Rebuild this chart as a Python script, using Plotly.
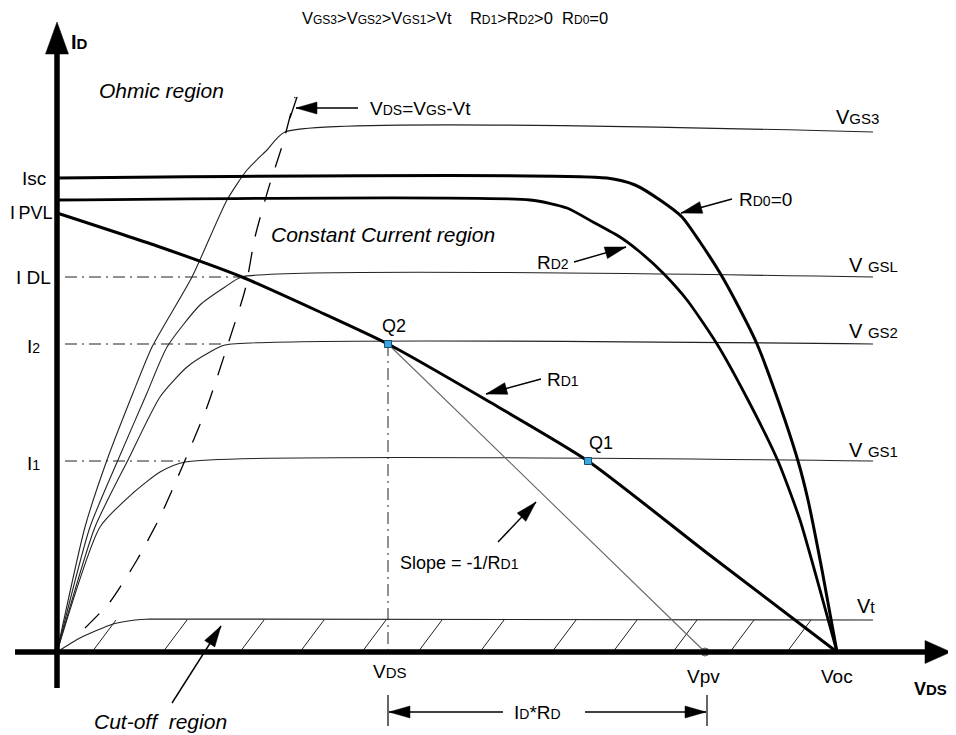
import plotly.graph_objects as go

# ---------------- data (V_DS, I_D in diagram units) ----------------
V_OC = 78.0
V_END = 81.6
I_SC = 47.4
I_PVL = 43.9
I_DL = 37.5
I_2 = 30.8
I_1 = 19.1
I_T = 3.2
I_GS3 = 52.0
V_Q2 = 33.1
V_Q1 = 53.1
V_PV = 64.8

rd0_v = [0, 55.0, 57.8, 60.3, 62.5, 64.3, 66.3, 67.8, 70.0, 72.1, 74.1, 75.1, 76.5, 78.0]
rd0_i = [47.4, 47.4, 46.7, 45.2, 43.5, 41.0, 37.9, 35.2, 30.8, 25.2, 19.1, 15.2, 8.2, 0]

rd2_v = [0, 47.3, 51.0, 53.6, 56.3, 58.3, 60.6, 63.0, 66.0, 69.1, 72.1, 74.3, 76.3, 78.0]
rd2_i = [45.2, 45.2, 44.4, 43.0, 41.5, 40.0, 37.9, 35.2, 30.8, 25.2, 19.1, 13.2, 6.2, 0]

rd1_v = [0, 10.0, 18.5, 26.3, 33.1, 43.1, 53.1, 65.0, 78.0]
rd1_i = [43.9, 40.6, 37.5, 34.0, 30.8, 25.1, 19.1, 9.9, 0]

vgs3_v = [0, 2.8, 5.0, 7.6, 9.5, 13.5, 17.0, 19.0, 21.0, 22.8, 81.6]
vgs3_i = [0, 12.5, 19.2, 25.9, 30.5, 37.5, 45.2, 48.2, 50.2, 52.0, 52.0]
vgsl_v = [0, 3.3, 6.1, 9.0, 11.0, 14.3, 16.8, 18.5, 81.6]
vgsl_i = [0, 12.5, 19.2, 25.9, 30.5, 34.7, 36.5, 37.5, 37.5]
vgs2_v = [0, 3.8, 7.1, 10.3, 13.0, 15.3, 16.8, 81.6]
vgs2_i = [0, 12.5, 19.2, 25.5, 28.5, 30.0, 30.7, 30.8]
vgs1_v = [0, 4.3, 7.6, 10.3, 12.8, 81.6]
vgs1_i = [0, 12.5, 15.9, 18.0, 19.0, 19.1]
vt_v = [0, 2.3, 5.6, 7.8, 9.3, 81.6]
vt_i = [0, 1.4, 2.8, 3.2, 3.3, 3.2]

locus_v = [2.8, 5.3, 8.0, 10.3, 12.3, 15.0, 17.1, 18.8, 19.8, 21.1, 22.6, 23.8]
locus_i = [2.4, 5.0, 9.2, 13.5, 18.0, 24.5, 30.8, 36.2, 41.5, 46.2, 50.9, 55.5]

knee_i = [I_DL, I_2, I_1]
knee_v = [18.5, 16.5, 12.8]

hatch_v = [3.5, 10.6, 18.3, 24.3, 30.5, 36.1, 42.3, 49.5, 55.6, 61.6, 67.3, 73.0]

# ---------------- figure ----------------
PAGE_W, PAGE_H = 956, 735
BODY = 8                  # default page margin of the html body
W, H = PAGE_W - BODY, PAGE_H - BODY
OX, OY = 57, 652          # page pixel position of the origin
S = 10.0                  # pixels per diagram unit


def P(px, py):
    return ((px - OX) / S, (OY - py) / S)


FONT = "Liberation Sans, Arial, Helvetica, sans-serif"
fig = go.Figure()


def line(x, y, w=1.0, color="black", dash=None, shape="linear"):
    fig.add_trace(go.Scatter(x=x, y=y, mode="lines", hoverinfo="skip",
                             line=dict(color=color, width=w, dash=dash, shape=shape, smoothing=0.6)))


# ohmic / saturation curves
line(vgs3_v, vgs3_i, 1.1, "#222", shape="spline")
line(vgsl_v, vgsl_i, 1.1, "#222", shape="spline")
line(vgs2_v, vgs2_i, 1.1, "#222", shape="spline")
line(vgs1_v, vgs1_i, 1.1, "#222", shape="spline")
line(vt_v, vt_i, 1.1, "#222", shape="spline")

# VDS = VGS - Vt locus
line(locus_v, locus_i, 1.3, "black", dash="20px,16px", shape="spline")

# dash-dot guides
for iv, kv in zip(knee_i, knee_v):
    line([0.8, kv], [iv, iv], 1.0, "#222", dash="12px,5px,2px,5px")
line([V_Q2, V_Q2], [I_2, 0], 1.0, "#222", dash="12px,5px,2px,5px")

# hatch of cut-off region
for hv in hatch_v:
    line([hv, hv + 2.4], [0, I_T], 1.0, "#222")

# slope line Q2 -> Vpv
line([V_Q2, V_PV], [I_2, 0], 1.1, "#666")

# PV curves
line(rd0_v, rd0_i, 3.0, "black", shape="spline")
line(rd2_v, rd2_i, 2.8, "black", shape="spline")
line(rd1_v, rd1_i, 3.0, "black", shape="spline")

# operating points
fig.add_trace(go.Scatter(x=[V_Q2, V_Q1], y=[I_2, I_1], mode="markers", hoverinfo="skip",
                         marker=dict(symbol="square", size=7, color="#3aa8dc",
                                     line=dict(color="#1b4d74", width=1))))
fig.add_trace(go.Scatter(x=[V_PV], y=[0], mode="markers", hoverinfo="skip",
                         marker=dict(symbol="circle", size=8, color="#8a8a8a",
                                     line=dict(color="#666", width=1))))

shapes = []


def seg(p1, p2, w=1.3, color="black"):
    (x1, y1), (x2, y2) = P(*p1), P(*p2)
    shapes.append(dict(type="line", xref="x", yref="y", x0=x1, y0=y1, x1=x2, y1=y2,
                       line=dict(color=color, width=w), layer="above"))


def head(tip, tail, length=21, half=6):
    tx, ty = tip
    bx, by = tail
    dx, dy = tx - bx, ty - by
    n = (dx * dx + dy * dy) ** 0.5
    ux, uy = dx / n, dy / n
    cx, cy = tx - ux * length, ty - uy * length
    p1 = P(tx, ty)
    p2 = P(cx - uy * half, cy + ux * half)
    p3 = P(cx + uy * half, cy - ux * half)
    path = f"M {p1[0]},{p1[1]} L {p2[0]},{p2[1]} L {p3[0]},{p3[1]} Z"
    shapes.append(dict(type="path", xref="x", yref="y", path=path,
                       fillcolor="black", line=dict(color="black", width=0.5), layer="above"))


def arrow(tail, tip, w=1.4, length=21, half=6):
    seg(tail, tip, w)
    head(tip, tail, length, half)


# axes
seg((57, 688), (57, 50), 5.5)
head((57, 22), (57, 100), 32, 11.5)
seg((15, 652), (930, 652), 5.5)
head((951, 652), (900, 652), 26, 11.5)

# annotation arrows
arrow((358, 108), (296, 108))          # VDS = VGS - Vt
arrow((732, 199), (681, 213))          # RD0
arrow((574, 262), (626, 247))          # RD2
arrow((541, 379), (486, 394))          # RD1
arrow((498, 542), (536, 502))          # slope
arrow((172, 703), (221, 626))          # cut-off
arrow((503, 712), (389, 712))          # ID*RD left
arrow((585, 712), (706, 712))          # ID*RD right
seg((388, 695), (388, 726), 1.2)
seg((707, 695), (707, 726), 1.2)
# top slash of the locus
seg((290, 118), (297, 97), 1.3)

fig.update_layout(shapes=shapes)


def sm(s, size=14):
    return f'<span style="font-size:{size}px">{s}</span>'


annots = []


def label(px, py, text, size=19, anchor="left", italic=False, bold=False):
    x, y = P(px, py)
    if bold:
        text = f"<b>{text}</b>"
    if italic:
        text = f"<i>{text}</i>"
    annots.append(dict(x=x, y=y, xref="x", yref="y", text=text, showarrow=False,
                       xanchor=anchor, yanchor="middle",
                       font=dict(family=FONT, size=size, color="black")))


label(300, 18, "V" + sm("GS3", 12) + ">V" + sm("GS2", 12) + ">V" + sm("GS1", 12) + ">Vt&nbsp;&nbsp;&nbsp;&nbsp;R"
      + sm("D1", 12) + ">R" + sm("D2", 12) + ">0&nbsp;&nbsp;R" + sm("D0", 12) + "=0", size=16.5)
label(69, 42, "I" + sm("D", 15), size=20, bold=True)
label(97, 90, "Ohmic region", size=21, italic=True)
label(269, 234, "Constant Current region", size=21, italic=True)
label(92, 721, "Cut-off&nbsp;&nbsp;region", size=21, italic=True)
label(368, 108, "V" + sm("DS") + "=V" + sm("GS") + "-Vt", size=19)

label(48, 178, "Isc", size=19, anchor="right")
label(55, 213, "I&#8201;PVL", size=18, anchor="right")
label(53, 277, "I DL", size=19, anchor="right")
label(25, 346, "I" + sm("2"), size=19)
label(25, 463, "I" + sm("1"), size=19)

label(834, 117, "V" + sm("GS3", 15), size=20)
label(847, 265, "V " + sm("GSL", 15), size=20)
label(847, 331, "V " + sm("GS2", 15), size=20)
label(847, 450, "V " + sm("GS1", 15), size=20)
label(855, 606, "V" + sm("t", 16), size=20)

label(737, 199, "R" + sm("D0", 14) + "=0", size=19)
label(535, 262, "R" + sm("D2", 14), size=19)
label(545, 379, "R" + sm("D1", 14), size=19)
label(380, 326, "Q2", size=18)
label(587, 443, "Q1", size=18)
label(398, 563, "Slope = -1/R" + sm("D1", 14), size=18)

label(390, 671, "V" + sm("DS", 15), size=19, anchor="center")
label(703, 676, "Vpv", size=19, anchor="center")
label(837, 676, "Voc", size=19, anchor="center")
label(930, 689, "V" + sm("DS", 15), size=18, anchor="center", bold=True)
label(537, 712, "I" + sm("D", 14) + "*R" + sm("D", 14), size=19, anchor="center")

fig.update_layout(
    annotations=annots,
    width=W, height=H,
    margin=dict(l=0, r=0, t=0, b=0),
    paper_bgcolor="white", plot_bgcolor="white",
    showlegend=False,
    xaxis=dict(range=[(BODY - OX) / S, (PAGE_W - OX) / S], visible=False, fixedrange=True),
    yaxis=dict(range=[(OY - PAGE_H) / S, (OY - BODY) / S], visible=False, fixedrange=True),
)

fig.write_html("out.html")
